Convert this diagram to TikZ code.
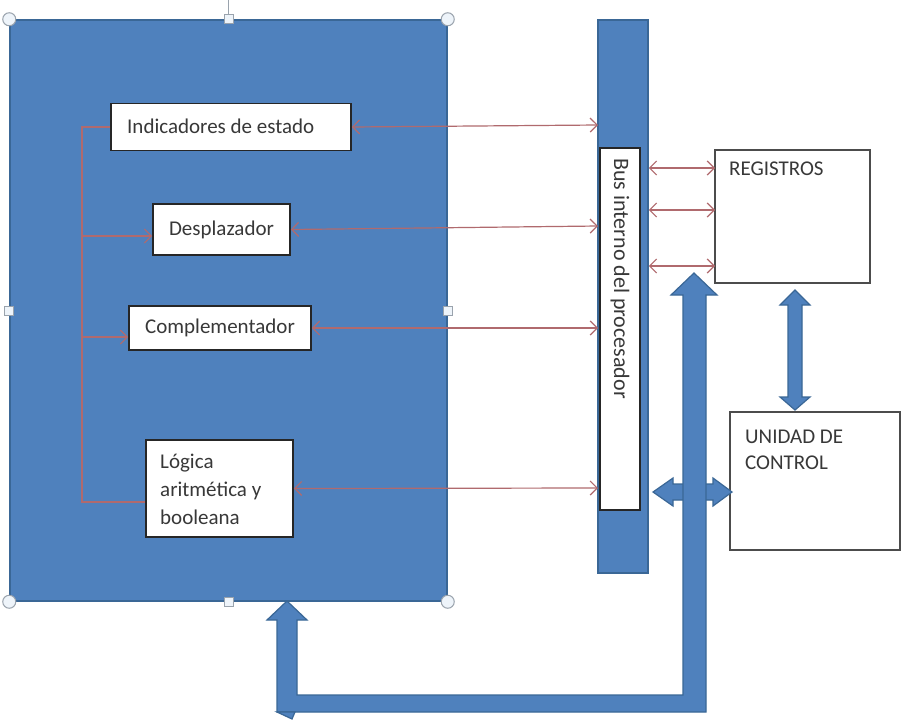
\documentclass[tikz,border=0pt]{standalone}
\usepackage{fontspec}
\setmainfont{Carlito}
\usetikzlibrary{arrows.meta}
\definecolor{ablue}{HTML}{4F81BD}
\definecolor{ablueD}{HTML}{3A6796}
\definecolor{rline}{HTML}{B06A6E}
\definecolor{txt}{HTML}{383838}
\definecolor{hfill}{HTML}{EEF4FA}
\definecolor{hdraw}{HTML}{9AA3AD}
\begin{document}
\begin{tikzpicture}[x=1pt,y=-1pt,
  bluebox/.style={draw=ablueD, fill=ablue, line width=1.5pt, inner sep=0pt},
  wbox/.style={draw=black!85, fill=white, line width=1.6pt, inner sep=0pt},
  gbox/.style={draw=black!70, fill=white, line width=1.3pt, inner sep=0pt},
  lbl/.style={font=\fontsize{21}{28}\selectfont, text=txt, inner sep=0pt},
  rl/.style={draw=rline, line width=1.2pt},
  rlone/.style={rl, -{Straight Barb[length=7pt,width=14pt]}},
  rlboth/.style={rl, {Straight Barb[length=7pt,width=14pt]}-{Straight Barb[length=7pt,width=14pt]}},
  barrow/.style={draw=ablueD, fill=ablue, line width=1.2pt, line join=miter},
  hc/.style={circle, draw=hdraw, fill=hfill, line width=1pt, minimum size=13pt, inner sep=0pt},
  hs/.style={rectangle, draw=hdraw, fill=hfill, line width=1pt, minimum size=9pt, inner sep=0pt}
]
\useasboundingbox (0,0) rectangle (918,723);
\fill[white] (0,0) rectangle (918,723);

% ALU block
\node[bluebox, minimum width=437pt, minimum height=581pt] (alu) at (228.5,310.5) {};
\draw[hdraw, line width=1pt] (alu.north) -- ++(0,-20);

% inner boxes
\node[wbox, minimum width=240pt, minimum height=47pt] (ind) at (231,127) {};
\node[lbl, anchor=base west] (indT) at (127,133) {Indicadores de estado};
\node[wbox, minimum width=137pt, minimum height=51pt, lbl] (desp) at (221.5,229.5) {Desplazador};
\node[wbox, minimum width=182pt, minimum height=44pt, lbl] (comp) at (220,328) {Complementador};
\node[wbox, minimum width=147pt, minimum height=97pt] (log) at (219.5,488.5) {};
\node[lbl, anchor=north west, align=left] (logT) at (160,454) {Lógica\\aritmética y\\booleana};

% bus
\node[bluebox, minimum width=50pt, minimum height=553pt] (bus) at (623,296.5) {};
\node[wbox, line width=1.4pt, minimum width=40pt, minimum height=362pt] (busin) at (620,329) {};
\node[lbl, rotate=-90, anchor=west, font=\fontsize{22}{28}\selectfont] (busT) at (620,158) {Bus interno del procesador};

% registers and control unit
\node[gbox, minimum width=155pt, minimum height=133pt] (reg) at (792.5,216.5) {};
\node[lbl, anchor=base west] (regT) at (729,175) {REGISTROS};
\node[gbox, minimum width=170pt, minimum height=138pt] (uc) at (815,481) {};
\node[lbl, anchor=north west, align=left, font=\fontsize{21}{26}\selectfont] (ucT) at (745,430) {UNIDAD DE\\CONTROL};

% red connectors, left side
\coordinate (tT) at (82,127);
\coordinate (tD) at (82,236);
\coordinate (tC) at (82,337);
\coordinate (tB) at (82,502);
\draw[rl] (ind.west) -- (tT) -- (tB) -- (log.west |- tB);
\draw[rlone] (tD) -- (desp.west |- tD);
\draw[rlone] (tC) -- (comp.west |- tC);

% red connectors, to the bus
\coordinate (bI) at (598,125);
\coordinate (bD) at (598,226);
\coordinate (bC) at (598,328);
\coordinate (bL) at (598,488);
\draw[rlboth] (ind.east) -- (bI);
\draw[rlboth] (desp.east) -- (bD);
\draw[rlboth] (comp.east) -- (bC);
\draw[rlboth] (log.east) -- (bL);

% bus to registers
\coordinate (r1) at (715,168);
\coordinate (r2) at (715,210);
\coordinate (r3) at (715,266);
\draw[rlboth] (bus.east |- r1) -- (r1);
\draw[rlboth] (bus.east |- r2) -- (r2);
\draw[rlboth] (bus.east |- r3) -- (r3);

% thick blue arrows
\filldraw[barrow] (653,492) -- (673,478) -- (673,484) -- (713,484) -- (713,478) -- (732,492)
  -- (713,506) -- (713,500) -- (673,500) -- (673,506) -- cycle;
\filldraw[barrow] (287,601) -- (307,620) -- (297,620) -- (297,695) -- (683,695) -- (683,295)
  -- (671,295) -- (694,273) -- (717,295) -- (706,295) -- (706,712) -- (277,712)
  -- (277,620) -- (267,620) -- cycle;
\filldraw[barrow] (277,712) -- (292,719) -- (295,712) -- cycle;
\filldraw[barrow] (795,290) -- (810,305) -- (802,305) -- (802,397) -- (810,397) -- (795,410)
  -- (780,397) -- (788,397) -- (788,305) -- (780,305) -- cycle;

% selection handles
\node[hc] (h1) at (alu.north west) {};
\node[hc] (h2) at (alu.north east) {};
\node[hc] (h3) at (alu.south west) {};
\node[hc] (h4) at (alu.south east) {};
\node[hs] (h5) at (alu.north) {};
\node[hs] (h6) at (alu.south) {};
\node[hs] (h7) at (alu.west) {};
\node[hs] (h8) at (alu.east) {};
\end{tikzpicture}
\end{document}
